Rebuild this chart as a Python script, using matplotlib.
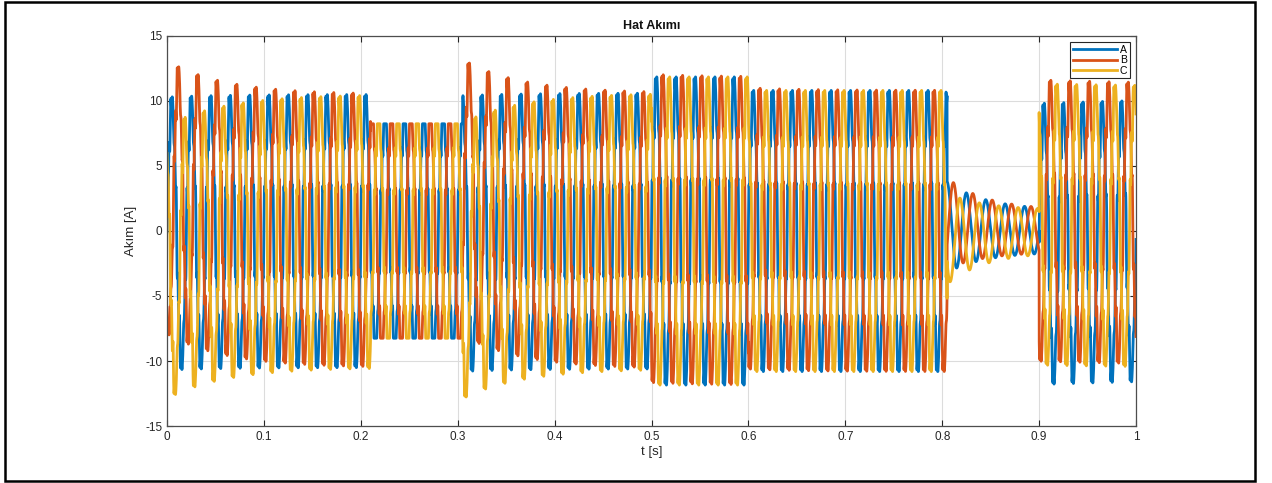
import numpy as np
import matplotlib
matplotlib.use("Agg")
import matplotlib.pyplot as plt
from matplotlib.patches import Rectangle

# Operating intervals of the three-phase line current
seg_start = [0.0, 0.21, 0.305, 0.50, 0.60, 0.805, 0.90]
seg_end = [0.21, 0.305, 0.50, 0.60, 0.805, 0.90, 1.0]
amp = [10.1, 9.2, 10.2, 11.4, 10.4, 1.6, 10.4]        # steady peak [A]
surge = [0.0, 0.0, 0.0, 0.0, 0.0, 1.9, 0.0]            # extra peak at interval start [A]
off_a = [-0.2, 0.0, -0.2, 0.0, 0.0, 0.3, -1.0]         # dc offset, phase A [A]
off_b = [2.6, 0.0, 2.6, 0.2, 0.2, 0.6, 0.8]            # dc offset, phase B [A]
off_c = [-2.4, 0.0, -2.3, 0.0, 0.0, -0.6, 0.5]         # dc offset, phase C [A]
tau = [0.06, 0.06, 0.06, 0.06, 0.06, 0.04, 0.4]        # decay time constant [s]
clip = [np.inf, 8.25, np.inf, np.inf, np.inf, np.inf, np.inf]
ripple = [1.0, 1.0, 1.0, 1.0, 1.0, 0.0, 1.0]           # harmonic content on/off

f0 = 50.0
phase_shift = [0.0, -2 * np.pi / 3, 2 * np.pi / 3]
phase_names = ["A", "B", "C"]
colors = ["#0072BD", "#D95319", "#EDB120"]

t = np.linspace(0, 1, 40001)
w = 2 * np.pi * f0
currents = [np.zeros_like(t) for _ in range(3)]

for k in range(len(seg_start)):
    m = (t >= seg_start[k]) & (t < seg_end[k] + (1e-9 if k == len(seg_start) - 1 else 0))
    ts = t[m]
    dt = ts - seg_start[k]
    env = np.exp(-dt / tau[k])
    a = amp[k] + surge[k] * env
    offs = [off_a[k], off_b[k], off_c[k]]
    for p in range(3):
        th = w * ts + phase_shift[p]
        # fundamental plus inverter harmonics and switching ripple
        harm = (0.05 * np.sin(5 * th) + 0.03 * np.sin(7 * th)
                + 0.07 * np.sin(11 * th + 0.4) + 0.05 * np.sin(13 * th - 0.3))
        y = a * (np.sin(th) + ripple[k] * harm) + offs[p] * env
        currents[p][m] = np.clip(y, -clip[k], clip[k])

plt.rcParams['font.family'] = ['Liberation Sans', 'DejaVu Sans']
plt.rcParams['axes.unicode_minus'] = False
fig = plt.figure(figsize=(12.72, 4.83), dpi=100)
ax = fig.add_axes([0.1313, 0.118, 0.7618, 0.8075])

for p in range(3):
    ax.plot(t, currents[p], color=colors[p], lw=2.0, label=phase_names[p])

ax.set_xlim(0, 1)
ax.set_ylim(-15, 15)
ax.set_xticks(np.arange(0, 1.01, 0.1))
ax.set_xticklabels(["0", "0.1", "0.2", "0.3", "0.4", "0.5", "0.6", "0.7", "0.8", "0.9", "1"])
ax.set_yticks([-15, -10, -5, 0, 5, 10, 15])
ax.grid(True, color="#dcdcdc", lw=0.8)
ax.set_axisbelow(True)
ax.tick_params(direction="in", top=True, right=True, labelsize=8.5,
               colors="#262626", length=4, width=0.8)
for s in ax.spines.values():
    s.set_color("#4d4d4d")
    s.set_linewidth(0.9)

ax.set_title("Hat Akımı", fontsize=9, fontweight="bold", color="#111111", pad=5)
ax.set_xlabel("t [s]", fontsize=9.5, color="#262626", labelpad=2)
ax.set_ylabel("Akım [A]", fontsize=9.5, color="#262626", labelpad=6)

leg = ax.legend(loc="upper right", fontsize=7.5, handlelength=4.2, handletextpad=0.3,
                borderpad=0.25, labelspacing=0.05, fancybox=False, framealpha=1,
                borderaxespad=0.6)
leg.get_frame().set_edgecolor("#262626")
leg.get_frame().set_linewidth(0.8)

# outer frame around the figure
fig.patches.append(Rectangle((5 / 1272, 2 / 483), 1250 / 1272, 479 / 483,
                             transform=fig.transFigure, fill=False,
                             edgecolor="black", lw=1.8))

fig.savefig("out.png", dpi=100)
